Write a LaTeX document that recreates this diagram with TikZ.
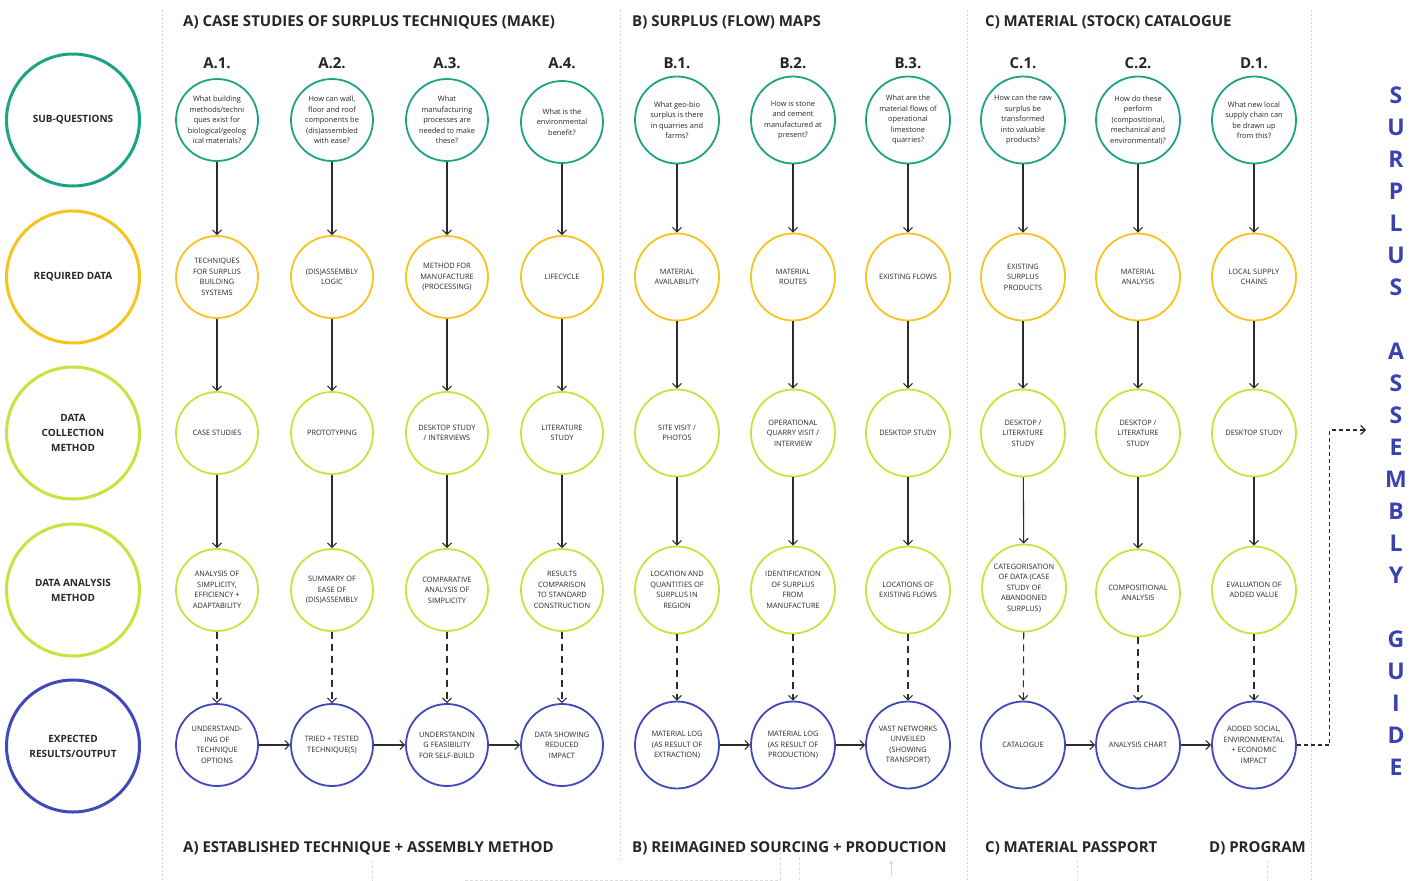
\documentclass[tikz,border=0pt]{standalone}
\usepackage{fontspec}
\setmainfont{Open Sans}
\usetikzlibrary{arrows.meta,shapes.geometric}

\definecolor{qteal}{RGB}{28,163,134}
\definecolor{qgold}{RGB}{246,196,30}
\definecolor{qlime}{RGB}{202,226,62}
\definecolor{qblue}{RGB}{64,72,186}
\definecolor{guideblue}{RGB}{58,66,178}
\definecolor{inkgray}{RGB}{40,40,40}
\definecolor{inkdark}{RGB}{45,45,45}
\definecolor{sepgray}{RGB}{212,212,212}

\begin{document}
\begin{tikzpicture}[x=1pt,y=-1pt,
  qtext/.style={align=center,font=\fontsize{7.4}{10.5}\selectfont,text=inkgray},
  acirc/.style={qtext,circle,draw,line width=1.8pt,minimum size=82pt,inner sep=-3pt},
  ecirc/.style={qtext,ellipse,draw,line width=1.8pt,minimum width=84pt,minimum height=87pt,inner sep=-3pt},
  rowq/.style={draw=qteal},
  rowd/.style={draw=qgold},
  rowc/.style={draw=qlime},
  rowm/.style={draw=qlime},
  rowr/.style={draw=qblue},
  lab/.style={ellipse,draw,line width=3pt,minimum width=133pt,minimum height=132pt,inner sep=0pt,
    align=center,font=\bfseries\fontsize{10}{15}\selectfont,text=inkgray},
  arr/.style={draw=inkdark,line width=1.1pt,-{Straight Barb[length=4.5pt,width=9pt]}},
  darr/.style={arr,dash pattern=on 7pt off 5pt},
  sep/.style={draw=sepgray,line width=1pt,dash pattern=on 1.5pt off 2.5pt},
  faint/.style={draw=sepgray!80,line width=0.8pt,dash pattern=on 3pt off 2pt},
  ttl/.style={font=\bfseries\fontsize{15}{18}\selectfont,text=black!85,anchor=base west,inner sep=0pt},
  cid/.style={font=\bfseries\fontsize{15}{18}\selectfont,text=black!85,anchor=base,inner sep=0pt},
  gl/.style={font=\bfseries\fontsize{23}{26}\selectfont,text=guideblue,anchor=center,inner sep=0pt}
]
\fill[white] (0,0) rectangle (1417,881);
\useasboundingbox (0,0) rectangle (1417,881);

% column separators
\draw[sep] (162,10) -- (162,881);
\draw[sep] (620,10) -- (620,863);
\draw[sep] (967,10) -- (967,881);
\draw[sep] (1311,10) -- (1311,881);
% traces of the sheet continuing below
\draw[faint] (372,860) -- (372,881);
\draw[faint] (465,880) -- (780,880) -- (780,840);
\draw[faint] (799,857) -- (799,881);
\draw[faint] (1077,860) -- (1077,881);
\draw[faint] (1267,860) -- (1267,881);
\draw[draw=sepgray,line width=0.8pt,-{Straight Barb[length=2pt,width=4pt]}] (891,876) -- (891,861);

% section headings
\node[ttl] (tA) at (183,26) {A) CASE STUDIES OF SURPLUS TECHNIQUES (MAKE)};
\node[ttl] (tB) at (632,26) {B) SURPLUS (FLOW) MAPS};
\node[ttl] (tC) at (985,26) {C) MATERIAL (STOCK) CATALOGUE};
\node[ttl] (bA) at (183,852) {A) ESTABLISHED TECHNIQUE + ASSEMBLY METHOD};
\node[ttl] (bB) at (632,852) {B) REIMAGINED SOURCING + PRODUCTION};
\node[ttl] (bC) at (985,852) {C) MATERIAL PASSPORT};
\node[ttl] (bD) at (1209,852) {D) PROGRAM};

% column ids
\foreach \nm/\xx/\tx in {a1/217/A.1., a2/332/A.2., a3/447/A.3., a4/562/A.4.,
  b1/677/B.1., b2/793/B.2., b3/908/B.3., c1/1023/C.1., c2/1138/C.2., d1/1254/D.1.}
  \node[cid] (id-\nm) at (\xx,68) {\tx};

% row labels
\node[lab,draw=qteal] (lab-q) at (73,120) {SUB-QUESTIONS};
\node[lab,draw=qgold] (lab-d) at (73,277) {REQUIRED DATA};
\node[lab,draw=qlime] (lab-c) at (73,433) {DATA\\COLLECTION\\METHOD};
\node[lab,draw=qlime] (lab-m) at (73,590) {DATA ANALYSIS\\METHOD};
\node[lab,draw=qblue] (lab-r) at (73,746) {EXPECTED\\RESULTS/OUTPUT};

% sub-questions
\node[acirc,rowq] (q-a1) at (217,120) {What building\\methods/techni\\ques exist for\\biological/geolog\\ical materials?};
\node[acirc,rowq] (q-a2) at (332,120) {How can wall,\\floor and roof\\components be\\(dis)assembled\\with ease?};
\node[acirc,rowq] (q-a3) at (447,120) {What\\manufacturing\\processes are\\needed to make\\these?};
\node[acirc,rowq] (q-a4) at (562,122) {What is the\\environmental\\benefit?};
\node[ecirc,rowq] (q-b1) at (677,120) {What geo-bio\\surplus is there\\in quarries and\\farms?};
\node[ecirc,rowq] (q-b2) at (793,120) {How is stone\\and cement\\manufactured at\\present?};
\node[ecirc,rowq] (q-b3) at (908,120) {What are the\\material flows of\\operational\\limestone\\quarries?};
\node[ecirc,rowq] (q-c1) at (1023,120) {How can the raw\\surplus be\\transformed\\into valuable\\products?};
\node[ecirc,rowq] (q-c2) at (1138,120) {How do these\\perform\\(compositional,\\mechanical and\\environmental)?};
\node[ecirc,rowq] (q-d1) at (1254,120) {What new local\\supply chain can\\be drawn up\\from this?};

% required data
\node[acirc,rowd] (d-a1) at (217,277) {TECHNIQUES\\FOR SURPLUS\\BUILDING\\SYSTEMS};
\node[acirc,rowd] (d-a2) at (332,277) {(DIS)ASSEMBLY\\LOGIC};
\node[acirc,rowd] (d-a3) at (447,277) {METHOD FOR\\MANUFACTURE\\(PROCESSING)};
\node[acirc,rowd] (d-a4) at (562,277) {LIFECYCLE};
\node[ecirc,rowd] (d-b1) at (677,277) {MATERIAL\\AVAILABILITY};
\node[ecirc,rowd] (d-b2) at (793,277) {MATERIAL\\ROUTES};
\node[ecirc,rowd] (d-b3) at (908,277) {EXISTING FLOWS};
\node[ecirc,rowd] (d-c1) at (1023,277) {EXISTING\\SURPLUS\\PRODUCTS};
\node[ecirc,rowd] (d-c2) at (1138,277) {MATERIAL\\ANALYSIS};
\node[ecirc,rowd] (d-d1) at (1254,277) {LOCAL SUPPLY\\CHAINS};

% data collection method
\node[acirc,rowc] (c-a1) at (217,433) {CASE STUDIES};
\node[acirc,rowc] (c-a2) at (332,433) {PROTOTYPING};
\node[acirc,rowc] (c-a3) at (447,433) {DESKTOP STUDY\\/ INTERVIEWS};
\node[acirc,rowc] (c-a4) at (562,433) {LITERATURE\\STUDY};
\node[ecirc,rowc] (c-b1) at (677,433) {SITE VISIT /\\PHOTOS};
\node[ecirc,rowc] (c-b2) at (793,433) {OPERATIONAL\\QUARRY VISIT /\\INTERVIEW};
\node[ecirc,rowc] (c-b3) at (908,433) {DESKTOP STUDY};
\node[ecirc,rowc] (c-c1) at (1023,433) {DESKTOP /\\LITERATURE\\STUDY};
\node[ecirc,rowc] (c-c2) at (1138,433) {DESKTOP /\\LITERATURE\\STUDY};
\node[ecirc,rowc] (c-d1) at (1254,433) {DESKTOP STUDY};

% data analysis method
\node[acirc,rowm] (m-a1) at (217,590) {ANALYSIS OF\\SIMPLICITY,\\EFFICIENCY +\\ADAPTABILITY};
\node[acirc,rowm] (m-a2) at (332,590) {SUMMARY OF\\EASE OF\\(DIS)ASSEMBLY};
\node[acirc,rowm] (m-a3) at (447,590) {COMPARATIVE\\ANALYSIS OF\\SIMPLICITY};
\node[acirc,rowm] (m-a4) at (562,590) {RESULTS\\COMPARISON\\TO STANDARD\\CONSTRUCTION};
\node[ecirc,rowm] (m-b1) at (677,590) {LOCATION AND\\QUANTITIES OF\\SURPLUS IN\\REGION};
\node[ecirc,rowm] (m-b2) at (793,590) {IDENTIFICATION\\OF SURPLUS\\FROM\\MANUFACTURE};
\node[ecirc,rowm] (m-b3) at (908,590) {LOCATIONS OF\\EXISTING FLOWS};
\node[ecirc,rowm] (m-c1) at (1024,588) {CATEGORISATION\\OF DATA (CASE\\STUDY OF\\ABANDONED\\SURPLUS)};
\node[ecirc,rowm] (m-c2) at (1138,593) {COMPOSITIONAL\\ANALYSIS};
\node[ecirc,rowm] (m-d1) at (1254,590) {EVALUATION OF\\ADDED VALUE};

% expected results / output
\node[acirc,rowr] (r-a1) at (217,745) {UNDERSTAND-\\ING OF\\TECHNIQUE\\OPTIONS};
\node[acirc,rowr] (r-a2) at (332,745) {TRIED + TESTED\\TECHNIQUE(S)};
\node[acirc,rowr] (r-a3) at (447,745) {UNDERSTANDIN\\G FEASIBILITY\\FOR SELF-BUILD};
\node[acirc,rowr] (r-a4) at (562,745) {DATA SHOWING\\REDUCED\\IMPACT};
\node[ecirc,rowr] (r-b1) at (677,745) {MATERIAL LOG\\(AS RESULT OF\\EXTRACTION)};
\node[ecirc,rowr] (r-b2) at (793,745) {MATERIAL LOG\\(AS RESULT OF\\PRODUCTION)};
\node[ecirc,rowr] (r-b3) at (908,745) {VAST NETWORKS\\UNVEILED\\(SHOWING\\TRANSPORT)};
\node[ecirc,rowr] (r-c1) at (1023,745) {CATALOGUE};
\node[ecirc,rowr] (r-c2) at (1138,745) {ANALYSIS CHART};
\node[ecirc,rowr] (r-d1) at (1254,745) {ADDED SOCIAL,\\ENVIRONMENTAL\\+ ECONOMIC\\IMPACT};

% vertical flow in every column
\foreach \col in {a1,a2,a3,a4,b1,b2,b3,c1,c2,d1}{
  \draw[arr] (q-\col) -- (d-\col);
  \draw[arr] (d-\col) -- (c-\col);
  \draw[arr] (c-\col) -- (m-\col);
  \draw[darr] (m-\col) -- (r-\col);
}

% outputs feeding one another
\draw[arr] (r-a1) -- (r-a2);
\draw[arr] (r-a2) -- (r-a3);
\draw[arr] (r-a3) -- (r-a4);
\draw[arr] (r-b1) -- (r-b2);
\draw[arr] (r-b2) -- (r-b3);
\draw[arr] (r-c1) -- (r-c2);
\draw[arr] (r-c2) -- (r-d1);

% lead into the guide
\coordinate (guide) at (1366,430);
\draw[darr,dash pattern=on 4pt off 3pt] (r-d1.east) -- ++(33,0) |- (guide);

% vertical title
\foreach \ch/\kk [count=\ii] in {S/0,U/1,R/2,P/3,L/4,U/5,S/6,A/8,S/9,S/10,E/11,M/12,B/13,L/14,Y/15,G/17,U/18,I/19,D/20,E/21}
  \node[gl] (g\ii) at (1396,{95+32*\kk}) {\ch};
\end{tikzpicture}
\end{document}
